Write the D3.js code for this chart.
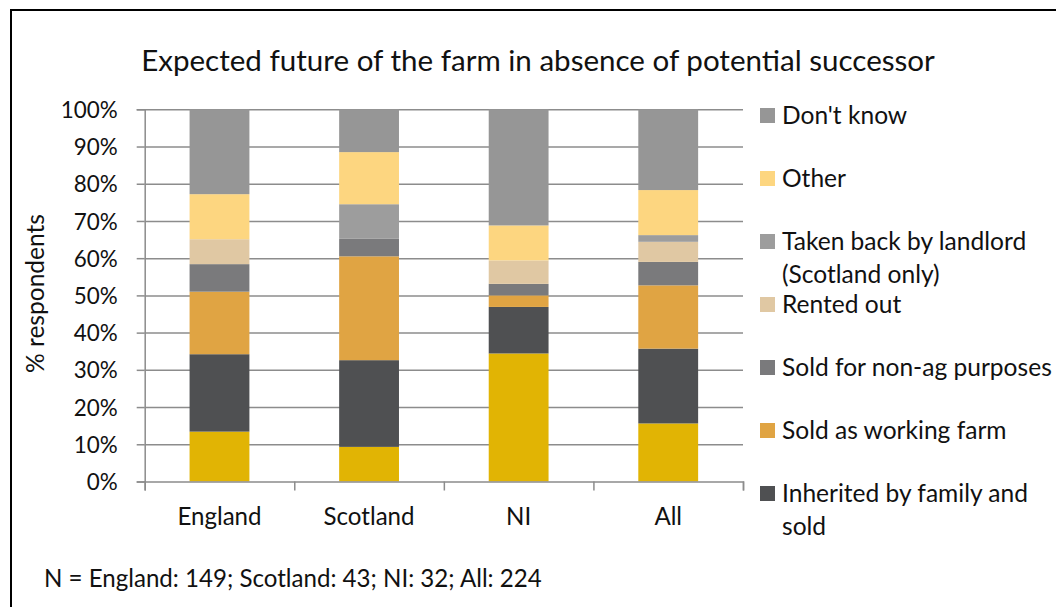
<!DOCTYPE html>
<html>
<head>
<meta charset="utf-8">
<script src="https://cdn.jsdelivr.net/npm/d3@7/dist/d3.min.js"></script>
<style>
  html, body { margin: 0; padding: 0; background: #fff; }
  svg { display: block; }
</style>
</head>
<body>
<svg id="chart" width="1056" height="607"></svg>
<script>
// ---- data (percent of respondents) ----
const categories = ["England", "Scotland", "NI", "All"];
const sampleSizes = [149, 43, 32, 224];

const seriesNames = [
  "Inherited by family and farmed",
  "Inherited by family and sold",
  "Sold as working farm",
  "Sold for non-ag purposes",
  "Rented out",
  "Taken back by landlord (Scotland only)",
  "Other",
  "Don't know"
];

const inheritedFarmed = [13.4,  9.3, 34.4, 15.6];
const inheritedSold   = [20.8, 23.3, 12.5, 20.1];
const soldWorkingFarm = [16.8, 27.9,  3.1, 17.0];
const soldNonAg       = [ 7.4,  4.7,  3.1,  6.3];
const rentedOut       = [ 6.7,  0.0,  6.3,  5.4];
const takenBack       = [ 0.0,  9.3,  0.0,  1.8];
const other           = [12.1, 14.0,  9.4, 12.1];
const dontKnow        = [22.8, 11.5, 31.2, 21.7];

const yTicks = [0, 10, 20, 30, 40, 50, 60, 70, 80, 90, 100];

const titleText = "Expected future of the farm in absence of potential successor";
const yAxisTitle = "% respondents";

// ---- styling ----
const colors = ["#E1B404", "#4F5052", "#E0A443", "#7A7A7C", "#E0C8A3", "#9D9D9D", "#FDD680", "#969696"];
const FONT = "Lato, 'Open Sans', sans-serif";
const gridColor = "#8C8C8C";

const seriesValues = [inheritedFarmed, inheritedSold, soldWorkingFarm, soldNonAg,
                      rentedOut, takenBack, other, dontKnow];

const table = categories.map((c, i) => {
  const row = { category: c };
  seriesNames.forEach((s, k) => { row[s] = seriesValues[k][i]; });
  return row;
});

const svg = d3.select("#chart");
svg.append("rect").attr("width", 1056).attr("height", 607).attr("fill", "#fff");

// outer frame
svg.append("rect")
  .attr("x", 11).attr("y", 10).attr("width", 1200).attr("height", 800)
  .attr("fill", "none").attr("stroke", "#000").attr("stroke-width", 2);

// Scale a text's font size so that its rendered width matches a target.
function fitSize(str, targetWidth, base = 20) {
  const t = svg.append("text").attr("font-family", FONT).attr("font-size", base).text(str);
  const w = t.node().getComputedTextLength();
  t.remove();
  return base * targetWidth / w;
}

const titleSize  = fitSize(titleText, 794);
const tickSize   = fitSize("100%", 57);
const catSize    = fitSize("Scotland", 91);
const legendSize = fitSize("Sold for non-ag purposes", 270);
const noteSize   = fitSize("N = England: 149; Scotland: 43; NI: 32; All: 224", 498);
const yTitleSize = fitSize(yAxisTitle, 159);

// ---- plot area ----
const plot = { left: 144.7, right: 743, top: 109.3, bottom: 481.5 };

const x = d3.scaleBand()
  .domain(categories)
  .range([plot.left, plot.right])
  .paddingInner(0.6)
  .paddingOuter(0.3);

const xEdges = d3.scaleLinear().domain([0, categories.length]).range([plot.left, plot.right]);

const y = d3.scaleLinear().domain([0, 100]).range([plot.bottom, plot.top]);

// gridlines
const grid = svg.append("g")
  .attr("transform", `translate(${plot.left},0)`)
  .call(d3.axisLeft(y).tickValues(yTicks.slice(1)).tickSize(-(plot.right - plot.left)).tickFormat(""));
grid.select(".domain").remove();
grid.selectAll("line").attr("stroke", gridColor).attr("stroke-width", 1.5);

// stacked bars
const stack = d3.stack().keys(seriesNames);
const layers = stack(table);

svg.append("g").selectAll("g")
  .data(layers)
  .join("g")
    .attr("fill", (d, i) => colors[i])
  .selectAll("rect")
  .data(d => d)
  .join("rect")
    .attr("x", d => x(d.data.category))
    .attr("width", x.bandwidth())
    .attr("y", d => y(d[1]))
    .attr("height", d => Math.max(0, y(d[0]) - y(d[1])));

// y axis
const yAxis = svg.append("g")
  .attr("transform", `translate(${plot.left},0)`)
  .call(d3.axisLeft(y).tickValues(yTicks).tickFormat(d => d + "%").tickSize(8).tickPadding(19));
yAxis.select(".domain").attr("stroke", gridColor).attr("stroke-width", 1.5);
yAxis.selectAll("line").attr("stroke", gridColor).attr("stroke-width", 1.5);
yAxis.selectAll("text")
  .attr("font-family", FONT).attr("font-size", tickSize).attr("fill", "#111")
  .attr("dy", "0.36em");

// x axis: ticks at category boundaries
const xTicks = svg.append("g")
  .attr("transform", `translate(0,${plot.bottom})`)
  .call(d3.axisBottom(xEdges).tickValues(d3.range(0, categories.length + 1)).tickSize(9).tickFormat(""));
xTicks.select(".domain").attr("stroke", gridColor).attr("stroke-width", 1.5);
xTicks.selectAll("line").attr("stroke", gridColor).attr("stroke-width", 1.5);

// x axis: category labels
const xLabels = svg.append("g")
  .attr("transform", `translate(0,${plot.bottom})`)
  .call(d3.axisBottom(x).tickSize(0).tickPadding(0));
xLabels.select(".domain").remove();
xLabels.selectAll("text")
  .attr("font-family", FONT).attr("font-size", catSize).attr("fill", "#111")
  .attr("dy", null).attr("y", 525 - plot.bottom);

// title
svg.append("text")
  .attr("x", 538).attr("y", 71)
  .attr("text-anchor", "middle")
  .attr("font-family", FONT).attr("font-size", titleSize).attr("fill", "#111")
  .text(titleText);

// y axis title
svg.append("text")
  .attr("transform", `translate(44,293.5) rotate(-90)`)
  .attr("text-anchor", "middle")
  .attr("font-family", FONT).attr("font-size", yTitleSize).attr("fill", "#111")
  .text(yAxisTitle);

// sample-size note
svg.append("text")
  .attr("x", 44).attr("y", 587)
  .attr("font-family", FONT).attr("font-size", noteSize).attr("fill", "#111")
  .text("N = " + categories.map((c, i) => `${c}: ${sampleSizes[i]}`).join("; "));

// legend (top entry = top of stack); entries that do not fit are dropped
const legend = { x: 760, firstCenter: 115.5, step: 63, lineHeight: 32.5, box: 15, maxWidth: 276, bottom: 545 };

function wrapWords(str, size) {
  const probe = svg.append("text").attr("font-family", FONT).attr("font-size", size);
  const words = str.split(" ");
  const lines = [];
  let cur = "";
  words.forEach(w => {
    const test = cur ? cur + " " + w : w;
    probe.text(test);
    if (probe.node().getComputedTextLength() > legend.maxWidth && cur) {
      lines.push(cur);
      cur = w;
    } else {
      cur = test;
    }
  });
  if (cur) lines.push(cur);
  probe.remove();
  return lines;
}

const legendG = svg.append("g");
const legendOrder = seriesNames.map((s, i) => i).reverse();
legendOrder.forEach((si, pos) => {
  const cy = legend.firstCenter + pos * legend.step;
  const lines = wrapWords(seriesNames[si], legendSize);
  const blockBottom = cy + legend.lineHeight / 2 + (lines.length - 1) * legend.lineHeight;
  if (blockBottom > legend.bottom) return;
  legendG.append("rect")
    .attr("x", legend.x).attr("y", cy - legend.box / 2)
    .attr("width", legend.box).attr("height", legend.box)
    .attr("fill", colors[si]);
  const t = legendG.append("text")
    .attr("font-family", FONT).attr("font-size", legendSize).attr("fill", "#111");
  lines.forEach((ln, li) => {
    t.append("tspan")
      .attr("x", legend.x + 22)
      .attr("y", cy + li * legend.lineHeight)
      .attr("dy", "0.36em")
      .text(ln);
  });
});
</script>
</body>
</html>
